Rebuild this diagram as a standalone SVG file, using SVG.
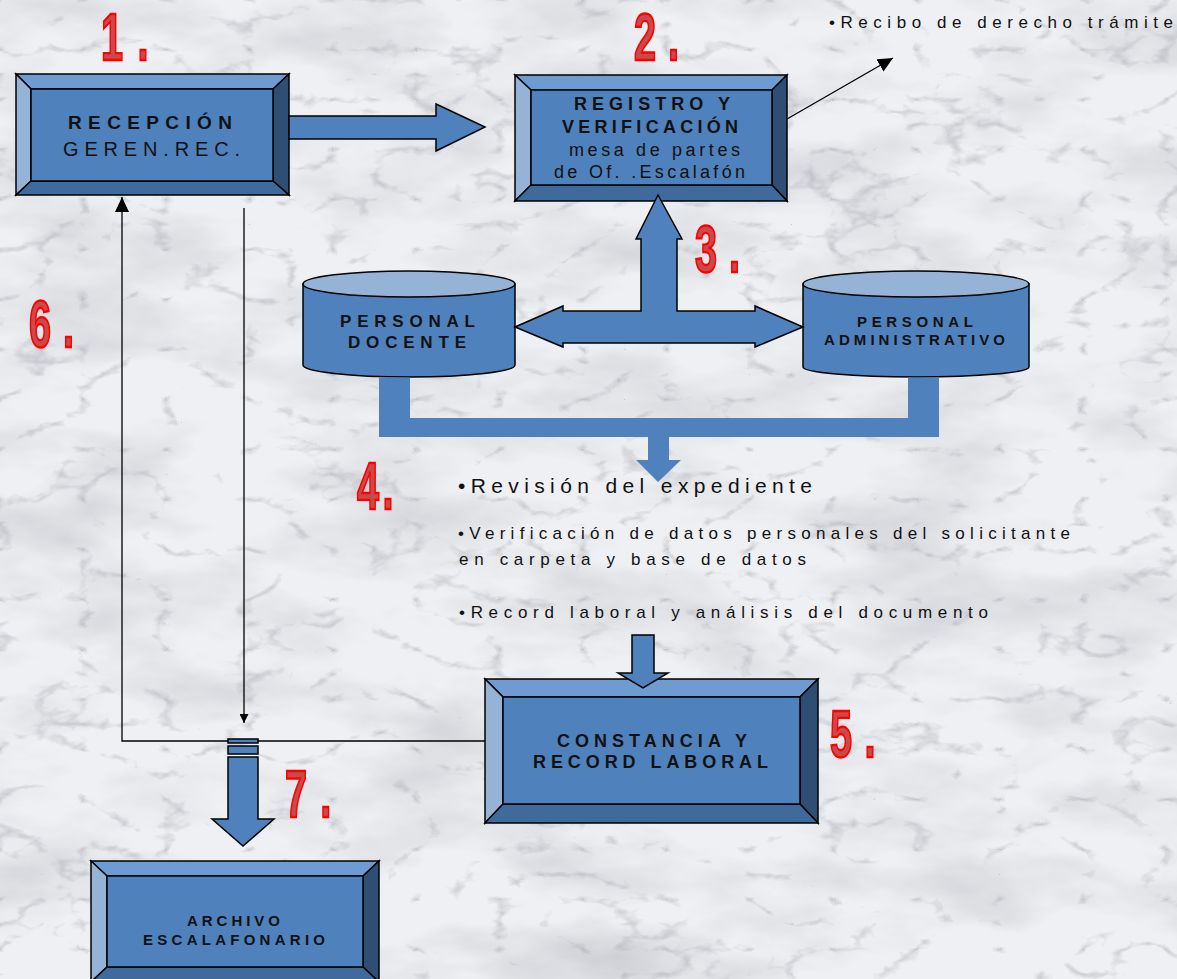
<svg xmlns="http://www.w3.org/2000/svg" width="1177" height="979" viewBox="0 0 1177 979">
<style>
.o{stroke:#000;stroke-width:1.5;stroke-linejoin:miter}
.face{fill:#4f81bd}
.bt{fill:#6e9bd1}
.bl{fill:#95b3d7}
.br{fill:#2f4e74}
.bb{fill:#40699c}
.tb{font-family:"Liberation Sans Narrow","Liberation Sans",Arial,sans-serif;font-weight:bold;fill:#111}
.tr{font-family:"Liberation Sans Narrow","Liberation Sans",Arial,sans-serif;fill:#111}
.n{font-family:"Liberation Sans",Arial,sans-serif;font-weight:bold;font-size:66px;fill:#c84a4a;stroke:#ff0000;stroke-width:2.4}
.blk{fill:#4f81bd;stroke:#000;stroke-width:1.5}
.ln{fill:none;stroke:#000;stroke-width:1.3}
</style>
<defs>
<filter id="mf" x="0" y="0" width="1" height="1">
<feTurbulence type="fractalNoise" baseFrequency="0.006 0.014" numOctaves="5" seed="7" result="t"/>
<feColorMatrix in="t" type="matrix" values="0 0 0 0 0.5  0 0 0 0 0.51  0 0 0 0 0.55  1.2 0 0 0 -0.5"/>
</filter>
<filter id="vf" x="0" y="0" width="1" height="1">
<feTurbulence type="turbulence" baseFrequency="0.012 0.02" numOctaves="4" seed="11" result="t"/>
<feColorMatrix in="t" type="matrix" values="0 0 0 0 0.4  0 0 0 0 0.41  0 0 0 0 0.45  -3 0 0 0 0.55"/>
</filter>
<marker id="ah" markerUnits="userSpaceOnUse" markerWidth="16" markerHeight="14" refX="15" refY="7" orient="auto"><path d="M0,0 L15,7 L0,14 Z" fill="#000"/></marker>
<marker id="as" markerUnits="userSpaceOnUse" markerWidth="10" markerHeight="9" refX="9" refY="4.5" orient="auto"><path d="M0,0 L9,4.5 L0,9 Z" fill="#000"/></marker>
</defs>
<rect x="0" y="0" width="1177" height="979" fill="#eff0f3"/>
<rect x="0" y="0" width="1177" height="979" filter="url(#mf)"/>
<rect x="0" y="0" width="1177" height="979" filter="url(#vf)"/>

<g id="n1">
<polygon class="o bt" points="16,74 289,74 273,89 31,89"/>
<polygon class="o bl" points="16,74 31,89 31,181 16,195"/>
<polygon class="o br" points="289,74 289,195 273,181 273,89"/>
<polygon class="o bb" points="16,195 289,195 273,181 31,181"/>
<rect class="o face" x="31" y="89" width="242" height="92"/>
<text class="tb" x="68" y="129" font-size="19" textLength="164" lengthAdjust="spacing">RECEPCIÓN</text>
<text class="tr" x="63" y="156" font-size="20" textLength="177" lengthAdjust="spacing">GEREN.REC.</text>
</g>

<g id="n2">
<polygon class="o bt" points="515,75 787,75 772,90 531,90"/>
<polygon class="o bl" points="515,75 531,90 531,185 515,201"/>
<polygon class="o br" points="787,75 787,201 772,185 772,90"/>
<polygon class="o bb" points="515,201 787,201 772,185 531,185"/>
<rect class="o face" x="531" y="90" width="241" height="95"/>
<text class="tb" x="574" y="110" font-size="18" textLength="156" lengthAdjust="spacing">REGISTRO Y</text>
<text class="tb" x="562" y="133" font-size="18" textLength="176" lengthAdjust="spacing">VERIFICACIÓN</text>
<text class="tr" x="569" y="156" font-size="18" textLength="171" lengthAdjust="spacing">mesa de partes</text>
<text class="tr" x="554" y="178" font-size="18" textLength="191" lengthAdjust="spacing">de Of. .Escalafón</text>
</g>

<g id="recibo">
<text class="tr" x="829" y="28" font-size="17" textLength="344" lengthAdjust="spacing">•Recibo de derecho trámite</text>
</g>

<g id="n3a">
<path class="o face" d="M303,284 L303,365 A106,12 0 0 0 515,365 L515,284 Z"/>
<ellipse class="o bl" cx="409" cy="284" rx="106" ry="13"/>
<text class="tb" x="340" y="327" font-size="17" textLength="135" lengthAdjust="spacing">PERSONAL</text>
<text class="tb" x="348" y="348" font-size="17" textLength="118" lengthAdjust="spacing">DOCENTE</text>
</g>

<g id="n3b">
<path class="o face" d="M803,284 L803,367 A113,10 0 0 0 1029,367 L1029,284 Z"/>
<ellipse class="o bl" cx="916" cy="284" rx="113" ry="13"/>
<text class="tb" x="857" y="327" font-size="15" textLength="116" lengthAdjust="spacing">PERSONAL</text>
<text class="tb" x="824" y="345" font-size="15" textLength="181" lengthAdjust="spacing">ADMINISTRATIVO</text>
</g>

<g id="n4">
<text class="tr" x="458" y="493" font-size="21" textLength="354" lengthAdjust="spacing">•Revisión del expediente</text>
<text class="tr" x="458" y="539" font-size="17" textLength="612" lengthAdjust="spacing">•Verificación de datos personales del solicitante</text>
<text class="tr" x="459" y="565" font-size="17" textLength="347" lengthAdjust="spacing">en carpeta y base de datos</text>
<text class="tr" x="459" y="618" font-size="17" textLength="529" lengthAdjust="spacing">•Record  laboral y análisis del documento</text>
</g>

<g id="n5">
<polygon class="o bt" points="485,679 818,679 800,697 503,697"/>
<polygon class="o bl" points="485,679 503,697 503,804 485,823"/>
<polygon class="o br" points="818,679 818,823 800,804 800,697"/>
<polygon class="o bb" points="485,823 818,823 800,804 503,804"/>
<rect class="o face" x="503" y="697" width="297" height="107"/>
<text class="tb" x="557" y="747" font-size="18" textLength="190" lengthAdjust="spacing">CONSTANCIA Y</text>
<text class="tb" x="533" y="768" font-size="18" textLength="235" lengthAdjust="spacing">RECORD LABORAL</text>
</g>

<g id="n7">
<polygon class="o bt" points="91,861 379,861 363,876 107,876"/>
<polygon class="o bl" points="91,861 107,876 107,967 91,982"/>
<polygon class="o br" points="379,861 379,982 363,967 363,876"/>
<polygon class="o bb" points="91,982 379,982 363,967 107,967"/>
<rect class="o face" x="107" y="876" width="256" height="91"/>
<text class="tb" x="187" y="926" font-size="15" textLength="93" lengthAdjust="spacing">ARCHIVO</text>
<text class="tb" x="143" y="945" font-size="15" textLength="182" lengthAdjust="spacing">ESCALAFONARIO</text>
</g>

<g id="connectors">
<polygon class="blk" points="289,116 436,116 436,104 485,127 436,151 436,139 289,139"/>
<polygon class="blk" points="515,327 563,306 563,311 641,311 641,239 636,239 658,195 682,239 677,239 677,311 755,311 755,306 803,327 755,347 755,343 563,343 563,347"/>
<path fill="#4f81bd" d="M379,377.5 L410,377.5 L410,418 L908,418 L908,377.5 L939,377.5 L939,437 L669,437 L669,460 L681,460 L658,482 L636,460 L648,460 L648,437 L379,437 Z"/>
<polygon class="blk" points="632,635 654,635 654,673 668,673 643,688 618,673 632,673"/>
<line class="ln" x1="787" y1="119" x2="893" y2="58" marker-end="url(#ah)"/>
<line class="ln" x1="244" y1="208" x2="244" y2="723" marker-end="url(#as)"/>
<polyline class="ln" points="485,741 122,741 122,197" marker-end="url(#ah)"/>
<rect class="blk" x="228" y="739" width="30" height="4"/>
<rect class="blk" x="228" y="746" width="30" height="8"/>
<polygon class="blk" points="228,757 258,757 258,819 274,819 243,846 212,819 228,819"/>
</g>

<g id="labels">
<text class="n" transform="translate(101,60) scale(0.6,1)">1<tspan dx="24">.</tspan></text>
<text class="n" transform="translate(634,60) scale(0.6,1)">2<tspan dx="20">.</tspan></text>
<text class="n" transform="translate(695,272) scale(0.6,1)">3<tspan dx="20">.</tspan></text>
<text class="n" transform="translate(357,509) scale(0.6,1)">4<tspan dx="6">.</tspan></text>
<text class="n" transform="translate(830,757) scale(0.6,1)">5<tspan dx="21">.</tspan></text>
<text class="n" transform="translate(29,347) scale(0.6,1)">6<tspan dx="20">.</tspan></text>
<text class="n" transform="translate(285,817) scale(0.6,1)">7<tspan dx="22">.</tspan></text>
</g>
</svg>
